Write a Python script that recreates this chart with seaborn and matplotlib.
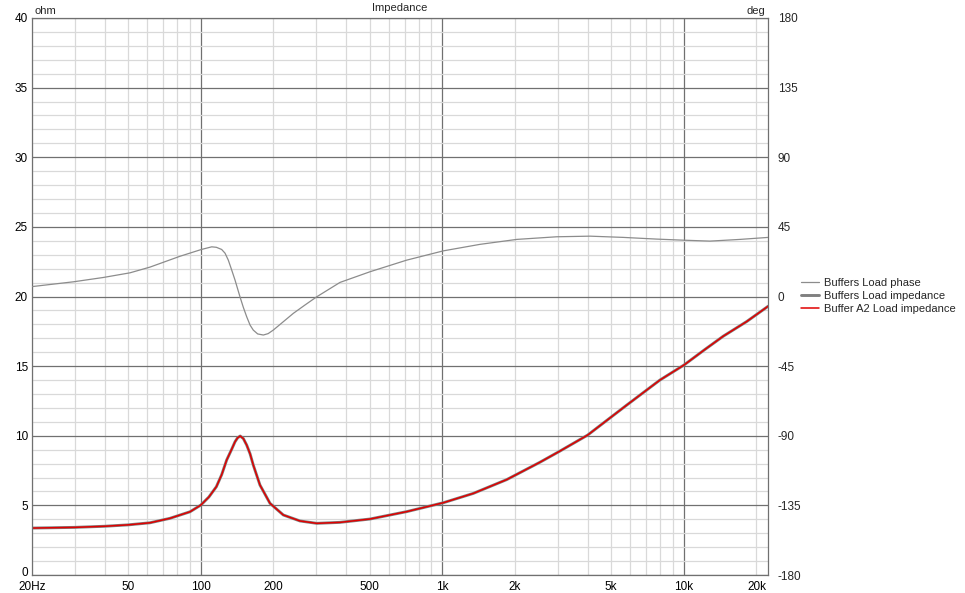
import matplotlib
matplotlib.use("Agg")
import matplotlib.pyplot as plt
import matplotlib.ticker as mticker
import matplotlib.transforms as mtrans
import seaborn as sns
import pandas as pd

# Impedance curve (ohm)
imp_freq = [20, 30, 40, 50, 61.6, 74.5, 90.2, 100, 108, 116, 122, 128, 134, 138.6, 142,
            145.6, 150, 154.9, 160, 164.9, 175.8, 193.4, 219.6, 257.5, 302, 377, 502, 712,
            1010, 1344, 1848, 2539, 3071, 4000, 5802, 7965, 10020, 12240, 14570,
            18210, 22390]
imp_ohm = [3.37, 3.42, 3.5, 3.6, 3.75, 4.07, 4.54, 5.02, 5.6, 6.34, 7.2, 8.26, 9.0, 9.57, 9.85,
           9.98, 9.8, 9.33, 8.7, 7.9, 6.46, 5.15, 4.31, 3.88, 3.71, 3.78, 4.02, 4.55,
           5.19, 5.86, 6.85, 8.1, 8.9, 10.05, 12.2, 14.0, 15.08, 16.2, 17.15,
           18.2, 19.31]

# Phase curve (deg)
ph_freq = [20, 29.7, 39.5, 50.9, 61.6, 82, 100.6, 111, 116, 122, 126, 130, 134, 138.6, 145.3,
           150, 154.9, 160, 164.9, 172, 181.5, 190, 199.6, 215, 241.6, 270, 302, 377, 502,
           712, 1010, 1432, 2033, 2976, 4090, 5617, 7722, 9954, 12830, 17090, 22390]
ph_deg = [6.4, 9.5, 12.3, 15.3, 19.0, 26.0, 30.4, 32.1, 31.8, 30.4, 28.0, 23.5, 17.5, 10.6,
          -0.2, -7.0, -13.1, -18.5, -21.7, -24.2, -24.9, -24.0, -21.7, -17.5, -10.9, -5.5,
          -0.2, 9.1, 16.0, 23.5, 29.5, 33.7, 36.9, 38.6, 39.0, 38.2, 37.1, 36.4, 35.8,
          36.9, 38.2]

x_tick_vals = [20, 50, 200, 500, 2000, 5000, 20000]
x_tick_text = ["20Hz", "50", "200", "500", "2k", "5k", "20k"]
x_major_vals = [100, 1000, 10000]
x_major_text = ["100", "1k", "10k"]

imp_df = pd.DataFrame({"freq": imp_freq, "ohm": imp_ohm})
ph_df = pd.DataFrame({"freq": ph_freq, "deg": ph_deg})

sns.set_style("white")
plt.rcParams["font.family"] = ["Liberation Sans", "DejaVu Sans"]
plt.rcParams["font.size"] = 8
plt.rcParams["axes.unicode_minus"] = False

fig = plt.figure(figsize=(9.65, 5.93), dpi=100)
ax = fig.add_axes([32 / 965, 1 - 575 / 593, 736 / 965, 557 / 593])

sns.lineplot(data=imp_df, x="freq", y="ohm", ax=ax, color="#808080", lw=2.1,
             label="Buffers Load impedance", legend=False, sort=False)
sns.lineplot(data=imp_df, x="freq", y="ohm", ax=ax, color="#e00000", lw=1.1,
             label="Buffer A2 Load impedance", legend=False, sort=False)

ax.set_xscale("log")
ax.set_xlim(20, 22320)
ax.set_ylim(0, 40)
ax.set_axisbelow(True)

ax.xaxis.set_major_locator(mticker.FixedLocator(x_major_vals))
ax.xaxis.set_major_formatter(mticker.FixedFormatter(x_major_text))
ax.xaxis.set_minor_locator(mticker.LogLocator(base=10, subs=range(2, 10), numticks=20))
lab = dict(zip(x_tick_vals, x_tick_text))
ax.xaxis.set_minor_formatter(mticker.FuncFormatter(
    lambda v, p: next((t for k, t in lab.items() if abs(v - k) / k < 1e-3), "")))

ax.yaxis.set_major_locator(mticker.MultipleLocator(5))
ax.yaxis.set_minor_locator(mticker.MultipleLocator(1))

ax.grid(which="major", color="#707070", lw=0.9)
ax.grid(which="minor", color="#d9d9d9", lw=0.9)
ax.tick_params(which="both", length=0, labelsize=8.5, colors="black")
ax.tick_params(axis="x", which="both", pad=4)
ax.tick_params(axis="y", which="both", pad=3)
for s in ax.spines.values():
    s.set_color("#707070")
    s.set_linewidth(0.9)
ax.set_xlabel("")
ax.set_ylabel("")

ax2 = ax.twinx()
sns.lineplot(data=ph_df, x="freq", y="deg", ax=ax2, color="#8c8c8c", lw=0.9,
             label="Buffers Load phase", legend=False, sort=False)
ax2.set_ylim(-180, 180)
ax2.yaxis.set_major_locator(mticker.MultipleLocator(45))
ax2.tick_params(length=0, labelsize=8.5, pad=7)
ax2.set_ylabel("")
ax2.grid(False)
for s in ax2.spines.values():
    s.set_visible(False)

ax.text(0.004, 1.003, "ohm", transform=ax.transAxes, ha="left", va="bottom", fontsize=8)
ax.text(0.996, 1.003, "deg", transform=ax.transAxes, ha="right", va="bottom", fontsize=8)
fig.text(400 / 965, 1 - 8 / 593, "Impedance", ha="center", va="center", fontsize=8)

handles = ax2.get_lines() + ax.get_lines()
labels = [h.get_label() for h in handles]
fig.legend(handles, labels, loc="center left", bbox_to_anchor=(801 / 965, 1 - 296 / 593),
           bbox_transform=fig.transFigure, frameon=False, fontsize=8, borderpad=0,
           borderaxespad=0, handlelength=1.6, handletextpad=0.45, labelspacing=0.3)

# lift the bottom "0" label a little so it clears the frequency labels
fig.canvas.draw()
lift = mtrans.ScaledTranslation(0, 3 / 100, fig.dpi_scale_trans)
for lbl in ax.yaxis.get_majorticklabels():
    if lbl.get_text() == "0":
        lbl.set_transform(lbl.get_transform() + lift)

fig.savefig("out.png", dpi=100)
